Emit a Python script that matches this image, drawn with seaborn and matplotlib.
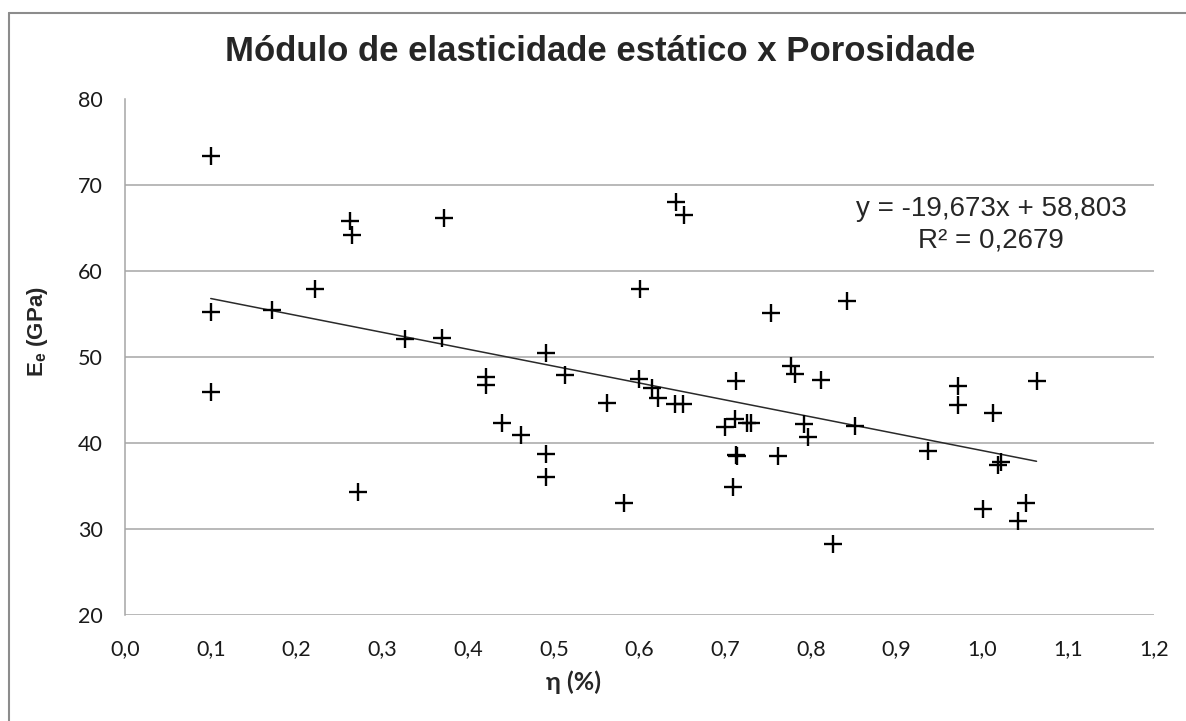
import numpy as np
import pandas as pd
import matplotlib
matplotlib.use("Agg")
import matplotlib.pyplot as plt
import seaborn as sns
from matplotlib.lines import Line2D

# ---- data ----
porosity = [0.100, 0.100, 0.100, 0.172, 0.221, 0.262, 0.265, 0.272, 0.327, 0.370,
            0.372, 0.421, 0.421, 0.440, 0.462, 0.491, 0.491, 0.491, 0.513, 0.562,
            0.582, 0.599, 0.601, 0.614, 0.622, 0.641, 0.643, 0.651, 0.652, 0.700,
            0.709, 0.711, 0.712, 0.712, 0.714, 0.725, 0.730, 0.753, 0.762, 0.777,
            0.781, 0.792, 0.797, 0.812, 0.826, 0.842, 0.851, 0.937, 0.971, 0.971,
            1.001, 1.012, 1.018, 1.022, 1.041, 1.051, 1.063]
modulus = [73.4, 55.3, 45.9, 55.5, 58.0, 65.9, 64.2, 34.3, 52.1, 52.2,
           66.2, 47.7, 46.8, 42.4, 41.0, 50.5, 38.7, 36.1, 47.9, 44.7,
           33.0, 47.5, 58.0, 46.4, 45.3, 44.6, 68.1, 44.6, 66.5, 41.9,
           34.9, 42.8, 47.2, 38.6, 38.5, 42.4, 42.3, 55.1, 38.5, 49.0,
           48.0, 42.2, 40.7, 47.4, 28.3, 56.5, 42.0, 39.1, 46.6, 44.4,
           32.3, 43.5, 37.5, 37.8, 30.9, 33.0, 47.2]
slope = -19.673
intercept = 58.803
r_squared = 0.2679
x_ticks = [0.0, 0.1, 0.2, 0.3, 0.4, 0.5, 0.6, 0.7, 0.8, 0.9, 1.0, 1.1, 1.2]
x_tick_labels = ["0,0", "0,1", "0,2", "0,3", "0,4", "0,5", "0,6", "0,7", "0,8", "0,9", "1,0", "1,1", "1,2"]
y_ticks = [20, 30, 40, 50, 60, 70, 80]
y_tick_labels = ["20", "30", "40", "50", "60", "70", "80"]
title = "Módulo de elasticidade estático x Porosidade"
equation = "y = -19,673x + 58,803"
r2_text = "R² = 0,2679"

df = pd.DataFrame({"eta": porosity, "Ee": modulus})
x_fit = np.array([min(porosity), max(porosity)])
fit_df = pd.DataFrame({"eta": x_fit, "Ee": slope * x_fit + intercept})

# ---- style ----
sns.set_theme(style="white")
plt.rcParams["font.family"] = ["Lato", "DejaVu Sans"]
plt.rcParams["mathtext.fontset"] = "custom"
plt.rcParams["mathtext.rm"] = "Liberation Sans"
plt.rcParams["mathtext.bf"] = "Liberation Sans:bold"

W, H = 1186, 721
fig = plt.figure(figsize=(W / 100, H / 100), dpi=100)
fig.patch.set_facecolor("white")

left, right, top, bottom = 125, 1154, 99.5, 615
ax = fig.add_axes([left / W, 1 - bottom / H, (right - left) / W, (bottom - top) / H])

grid_c = "#a6a6a6"
for yv in y_ticks:
    ax.axhline(yv, color=grid_c, lw=1.1, zorder=0)

sns.lineplot(data=fit_df, x="eta", y="Ee", ax=ax, color="#2a2a2a", lw=1.1, zorder=2)
sns.scatterplot(data=df, x="eta", y="Ee", ax=ax, marker="+", s=170, color="black",
                linewidth=1.7, zorder=3)

ax.set_xlim(0, 1.2)
ax.set_ylim(20, 80)
ax.set_xticks(x_ticks)
ax.set_xticklabels(x_tick_labels)
ax.set_yticks(y_ticks)
ax.set_yticklabels(y_tick_labels)
ax.tick_params(axis="both", length=0, labelsize=15.5, colors="#1a1a1a")
ax.tick_params(axis="x", pad=17)
ax.tick_params(axis="y", pad=16)
ax.set_xlabel("")
ax.set_ylabel("")
for s in ["top", "right", "bottom"]:
    ax.spines[s].set_visible(False)
ax.spines["left"].set_color(grid_c)
ax.spines["left"].set_linewidth(1.1)
ax.grid(False)

# text
fig.text(600 / W, 1 - 61 / H, title, ha="center", va="baseline",
         fontsize=25, fontweight="bold", family=["Liberation Sans", "DejaVu Sans"])
fig.text(991 / W, 1 - 216 / H, equation, ha="center", va="baseline",
         fontsize=20, family=["Liberation Sans", "DejaVu Sans"])
fig.text(991 / W, 1 - 247 / H, r2_text, ha="center", va="baseline",
         fontsize=20, family=["Liberation Sans", "DejaVu Sans"])
fig.text(573 / W, 1 - 682 / H, "η (%)", ha="center", va="center",
         fontsize=18, fontweight="bold")
fig.text(38 / W, 1 - 332 / H, r"$\mathbf{E_e}$ (GPa)", ha="center", va="center",
         rotation=90, fontsize=16, fontweight="bold",
         family=["Liberation Sans", "DejaVu Sans"])

# outer frame
border_c = "#8c8c8c"
fig.add_artist(Line2D([8.5 / W, 8.5 / W], [0, 1 - 12.5 / H], transform=fig.transFigure,
                      color=border_c, lw=1.5))
fig.add_artist(Line2D([8.5 / W, 1], [1 - 12.5 / H, 1 - 12.5 / H], transform=fig.transFigure,
                      color=border_c, lw=1.5))

fig.savefig("out.png", dpi=100, facecolor="white")
